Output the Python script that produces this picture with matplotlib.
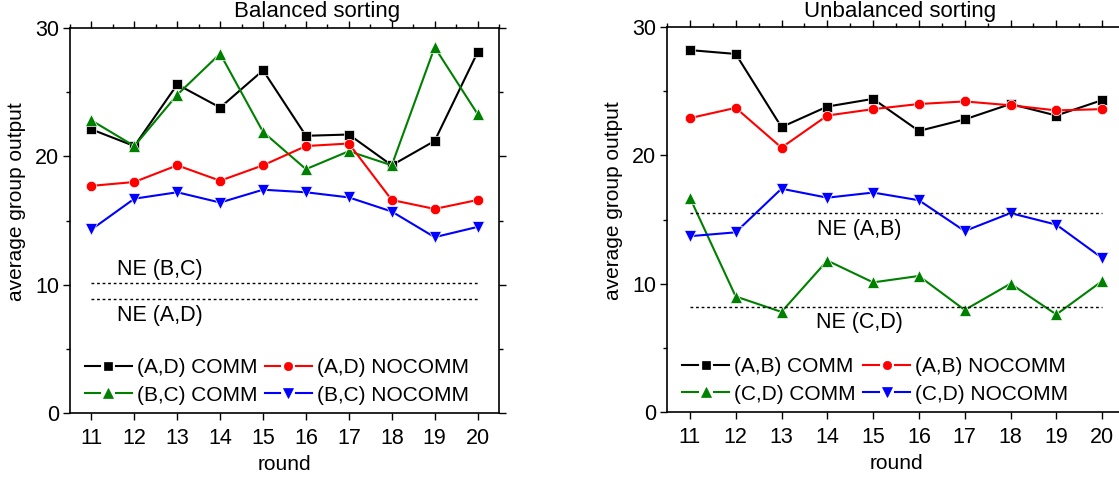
import matplotlib
matplotlib.use("Agg")
import matplotlib.pyplot as plt
from matplotlib.ticker import MultipleLocator
from matplotlib.legend_handler import HandlerBase
from matplotlib.lines import Line2D

plt.rcParams['font.family'] = ['Liberation Sans', 'DejaVu Sans']

rounds = [11, 12, 13, 14, 15, 16, 17, 18, 19, 20]

# Balanced sorting
bal_AD_comm = [22.1, 20.8, 25.6, 23.8, 26.7, 21.6, 21.7, 19.3, 21.2, 28.1]
bal_AD_nocomm = [17.7, 18.0, 19.3, 18.1, 19.3, 20.8, 21.0, 16.6, 15.9, 16.6]
bal_BC_comm = [22.8, 20.8, 24.8, 28.0, 21.9, 19.0, 20.4, 19.3, 28.5, 23.3]
bal_BC_nocomm = [14.3, 16.7, 17.2, 16.4, 17.4, 17.2, 16.8, 15.7, 13.7, 14.5]
bal_NE_BC = 10.1
bal_NE_AD = 8.9

# Unbalanced sorting
unb_AB_comm = [28.2, 27.9, 22.2, 23.8, 24.4, 21.9, 22.8, 24.0, 23.1, 24.3]
unb_AB_nocomm = [22.9, 23.7, 20.6, 23.1, 23.6, 24.0, 24.2, 23.9, 23.5, 23.6]
unb_CD_comm = [16.7, 9.0, 7.8, 11.8, 10.1, 10.6, 7.95, 10.0, 7.6, 10.2]
unb_CD_nocomm = [13.7, 14.0, 17.4, 16.7, 17.1, 16.5, 14.1, 15.5, 14.6, 12.0]
unb_NE_AB = 15.5
unb_NE_CD = 8.15


class GapHandler(HandlerBase):
    """Legend handle drawn as line - marker - line with small gaps."""
    def create_artists(self, legend, orig, xdescent, ydescent, width, height,
                       fontsize, trans):
        y = height / 2 - ydescent
        x0 = -xdescent
        xc = x0 + width / 2
        gap = 0.17 * width
        c = orig.get_color()
        lw = orig.get_linewidth()
        l1 = Line2D([x0, xc - gap], [y, y], color=c, lw=lw)
        l2 = Line2D([xc + gap, x0 + width], [y, y], color=c, lw=lw)
        m = Line2D([xc], [y], color=c, ls='', marker=orig.get_marker(),
                   ms=orig.get_markersize() * 0.8, mec=c, mew=0.5)
        for a in (l1, l2, m):
            a.set_transform(trans)
        return [l1, l2, m]


fig = plt.figure(figsize=(11.19, 4.8), dpi=100)
axL = fig.add_axes([70/1119, 1-413/480, 429/1119, 385/480])
axR = fig.add_axes([667/1119, 1-412/480, 458/1119, 385/480])

FS = 15.5

def style(ax, right_spine=True):
    ax.set_xlim(10.5, 20.5)
    ax.set_ylim(0, 30)
    ax.set_xticks(rounds)
    ax.yaxis.set_major_locator(MultipleLocator(10))
    ax.yaxis.set_minor_locator(MultipleLocator(5))
    ax.xaxis.set_minor_locator(MultipleLocator(0.5))
    ax.tick_params(which='both', direction='out', labelsize=FS, width=1.0)
    ax.tick_params(which='major', length=5)
    ax.tick_params(which='minor', length=3)
    ax.tick_params(axis='x', which='major', pad=6)
    ax.tick_params(axis='y', which='major', pad=3)
    ax.tick_params(axis='x', which='minor', bottom=False, top=True)
    ax.tick_params(axis='x', which='major', top=True)
    ax.tick_params(axis='y', which='both', right=right_spine)
    ax.spines['right'].set_visible(right_spine)
    for s in ax.spines.values():
        s.set_linewidth(1.2)
    ax.set_xlabel('round', fontsize=15, labelpad=4)
    ax.set_ylabel('average group output', fontsize=15)

def series(ax, y, color, marker, label, ms):
    return ax.plot(rounds, y, color=color, marker=marker, ms=ms, lw=1.5,
                   mec='white', mew=0.5, label=label)[0]

style(axL, True)
hL = [series(axL, bal_AD_comm, 'black', 's', '(A,D) COMM', 7),
      series(axL, bal_BC_comm, 'green', '^', '(B,C) COMM', 8.5),
      series(axL, bal_AD_nocomm, 'red', 'o', '(A,D) NOCOMM', 7.5),
      series(axL, bal_BC_nocomm, 'blue', 'v', '(B,C) NOCOMM', 8.5)]
axL.plot([rounds[0], rounds[-1]], [bal_NE_BC]*2, color='black', ls=(0, (2, 2)), lw=1)
axL.plot([rounds[0], rounds[-1]], [bal_NE_AD]*2, color='black', ls=(0, (2, 2)), lw=1)
axL.text(12.6, 11.2, 'NE (B,C)', fontsize=15.5, ha='center', va='center')
axL.text(12.6, 7.6, 'NE (A,D)', fontsize=15.5, ha='center', va='center')

style(axR, False)
hR = [series(axR, unb_AB_comm, 'black', 's', '(A,B) COMM', 7),
      series(axR, unb_CD_comm, 'green', '^', '(C,D) COMM', 8.5),
      series(axR, unb_AB_nocomm, 'red', 'o', '(A,B) NOCOMM', 7.5),
      series(axR, unb_CD_nocomm, 'blue', 'v', '(C,D) NOCOMM', 8.5)]
axR.plot([rounds[0], rounds[-1]], [unb_NE_AB]*2, color='black', ls=(0, (2, 2)), lw=1)
axR.plot([rounds[0], rounds[-1]], [unb_NE_CD]*2, color='black', ls=(0, (2, 2)), lw=1)
axR.text(14.7, 14.2, 'NE (A,B)', fontsize=15.5, ha='center', va='center')
axR.text(14.7, 7.0, 'NE (C,D)', fontsize=15.5, ha='center', va='center')

for ax, hs, x0 in ((axL, hL, 0.035), (axR, hR, 0.033)):
    ax.legend(handles=hs, ncol=2, loc='lower left', bbox_to_anchor=(x0, 0.022),
              frameon=False, fontsize=15, handlelength=2.25, handletextpad=0.25,
              columnspacing=0.35, labelspacing=0.4, borderaxespad=0.0,
              borderpad=0.0, handler_map={Line2D: GapHandler()})
    ax.yaxis.set_label_coords(-0.1026 * 429 / (ax.get_position().width * 1119), 0.548)

fig.text(317.5/1119, 1-12/480, 'Balanced sorting', fontsize=16, ha='center', va='center')
fig.text(900/1119, 1-12/480, 'Unbalanced sorting', fontsize=16, ha='center', va='center')

fig.savefig('out.png', dpi=100)
